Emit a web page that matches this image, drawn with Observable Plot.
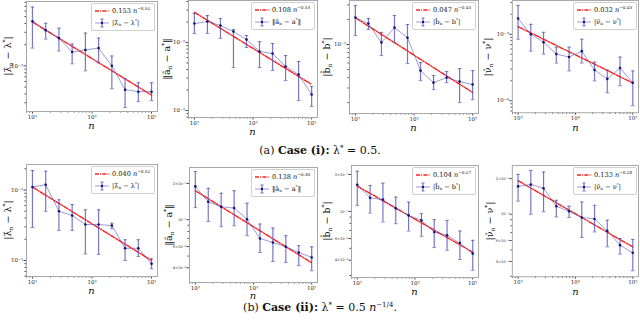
<!DOCTYPE html>
<html><head><meta charset="utf-8">
<script src="https://cdn.jsdelivr.net/npm/d3@7"></script>
<script src="https://cdn.jsdelivr.net/npm/@observablehq/plot@0.6"></script>
<style>
body{margin:0;background:#fff;}
#fig{position:relative;width:640px;height:332px;overflow:hidden;font-family:"DejaVu Serif",serif;color:#111;}
.panel{position:absolute;}
.legend{position:absolute;border:0.8px solid #cfcfcf;border-radius:2px;background:rgba(255,255,255,0.85);font-size:6.6px;font-family:"DejaVu Serif",serif;}
.legend svg{position:absolute;left:0;top:0;}
.legend .t{position:absolute;left:20px;white-space:nowrap;line-height:1;}
.legend sup{font-size:4.2px;vertical-align:3px;}
.legend sub{font-size:4.2px;vertical-align:-1px;}
.ylab{position:absolute;transform:translate(-50%,-50%) rotate(-90deg);white-space:nowrap;font-size:9.5px;line-height:1;font-family:"DejaVu Serif",serif;}
.ylab sub{font-size:6px;vertical-align:-2px;}
.ylab sup{font-size:6px;vertical-align:4px;}
.xlab{position:absolute;transform:translate(-50%,-50%);font-style:italic;font-size:10px;line-height:1;}
.cap{position:absolute;left:0;width:640px;text-align:center;font-size:11px;line-height:1;transform:translateY(-50%);font-family:"DejaVu Serif",serif;}
.cap sup{font-size:7px;vertical-align:4px;}
</style></head>
<body><div id="fig"></div>
<script>
// ---------- data ----------
const nValues = [1000, 1668, 2783, 4642, 7743, 12915, 21544, 35938, 59948, 100000];
const fitN = [1000, 100000];
const xDomain = [794.3, 125893];
const xTicks = [1e3, 1e4, 1e5];
const xTickLabels = ["10³", "10⁴", "10⁵"];

// Case (i)
const caseI_lambda_mean = [4.3e-3, 3.21e-3, 2.48e-3, 1.57e-3, 1.68e-3, 1.79e-3, 1.0e-3, 0.459e-3, 0.43e-3, 0.43e-3];
const caseI_lambda_hi   = [6.84e-3, 4.03e-3, 3.43e-3, 2.04e-3, 2.92e-3, 2.48e-3, 1.38e-3, 0.656e-3, 0.576e-3, 0.576e-3];
const caseI_lambda_lo   = [1.79e-3, 2.40e-3, 1.63e-3, 1.07e-3, 0.85e-3, 1.10e-3, 0.474e-3, 0.256e-3, 0.311e-3, 0.321e-3];
const caseI_lambda_fit  = [4.2e-3, 3.84e-4];

const caseI_a_mean = [1.90e-3, 2.04e-3, 1.78e-3, 1.45e-3, 1.11e-3, 0.737e-3, 0.689e-3, 0.444e-3, 0.338e-3, 0.172e-3];
const caseI_a_hi   = [2.67e-3, 2.49e-3, 2.25e-3, 1.55e-3, 1.27e-3, 1.03e-3, 0.967e-3, 0.644e-3, 0.526e-3, 0.225e-3];
const caseI_a_lo   = [1.36e-3, 1.36e-3, 1.15e-3, 0.429e-3, 0.844e-3, 0.429e-3, 0.388e-3, 0.276e-3, 0.140e-3, 0.115e-3];
const caseI_a_fit  = [2.78e-3, 2.42e-4];

const caseI_b_mean = [2.11e-3, 1.79e-3, 1.06e-3, 1.60e-3, 1.21e-3, 0.486e-3, 0.348e-3, 0.400e-3, 0.358e-3, 0.330e-3];
const caseI_b_hi   = [2.95e-3, 2.06e-3, 1.40e-3, 2.24e-3, 1.74e-3, 0.607e-3, 0.423e-3, 0.473e-3, 0.514e-3, 0.486e-3];
const caseI_b_lo   = [1.28e-3, 1.52e-3, 0.737e-3, 1.06e-3, 0.590e-3, 0.368e-3, 0.287e-3, 0.348e-3, 0.200e-3, 0.217e-3];
const caseI_b_fit  = [2.10e-3, 2.65e-4];

const caseI_nu_mean = [1.73e-3, 1.0e-3, 0.760e-3, 0.503e-3, 0.454e-3, 0.557e-3, 0.290e-3, 0.213e-3, 0.311e-3, 0.186e-3];
const caseI_nu_hi   = [2.71e-3, 1.41e-3, 1.07e-3, 0.640e-3, 0.640e-3, 0.842e-3, 0.382e-3, 0.290e-3, 0.454e-3, 0.281e-3];
const caseI_nu_lo   = [0.842e-3, 0.557e-3, 0.503e-3, 0.369e-3, 0.281e-3, 0.369e-3, 0.199e-3, 0.132e-3, 0.168e-3, 0.0842e-3];
const caseI_nu_fit  = [1.3e-3, 1.85e-4];

// Case (ii)
const caseII_lambda_mean = [1.10e-3, 1.19e-3, 0.500e-3, 0.435e-3, 0.324e-3, 0.324e-3, 0.313e-3, 0.149e-3, 0.149e-3, 0.0898e-3];
const caseII_lambda_hi   = [1.89e-3, 1.85e-3, 0.726e-3, 0.623e-3, 0.524e-3, 0.524e-3, 0.338e-3, 0.197e-3, 0.197e-3, 0.1057e-3];
const caseII_lambda_lo   = [0.294e-3, 0.500e-3, 0.267e-3, 0.267e-3, 0.124e-3, 0.122e-3, 0.282e-3, 0.100e-3, 0.114e-3, 0.0762e-3];
const caseII_lambda_fit  = [1.10e-3, 1.0e-4];

const caseII_a_mean = [1.89e-3, 1.41e-3, 1.28e-3, 1.25e-3, 1.01e-3, 0.700e-3, 0.648e-3, 0.597e-3, 0.536e-3, 0.487e-3];
const caseII_a_hi   = [2.51e-3, 1.82e-3, 1.66e-3, 1.74e-3, 1.37e-3, 0.921e-3, 0.853e-3, 0.737e-3, 0.609e-3, 0.597e-3];
const caseII_a_lo   = [1.26e-3, 0.968e-3, 0.875e-3, 0.892e-3, 0.737e-3, 0.536e-3, 0.451e-3, 0.443e-3, 0.416e-3, 0.378e-3];
const caseII_a_fit  = [1.74e-3, 4.4e-4];

const caseII_b_mean = [1.65e-3, 1.29e-3, 1.25e-3, 1.06e-3, 0.928e-3, 0.845e-3, 0.679e-3, 0.638e-3, 0.552e-3, 0.453e-3];
const caseII_b_hi   = [2.13e-3, 1.63e-3, 1.70e-3, 1.31e-3, 1.19e-3, 0.958e-3, 0.857e-3, 0.845e-3, 0.692e-3, 0.581e-3];
const caseII_b_lo   = [1.12e-3, 0.969e-3, 0.819e-3, 0.794e-3, 0.692e-3, 0.626e-3, 0.507e-3, 0.482e-3, 0.405e-3, 0.331e-3];
const caseII_b_fit  = [1.61e-3, 4.65e-4];

const caseII_nu_mean = [1.72e-3, 1.78e-3, 1.66e-3, 1.17e-3, 1.06e-3, 0.938e-3, 0.913e-3, 0.724e-3, 0.549e-3, 0.473e-3];
const caseII_nu_hi   = [2.17e-3, 2.34e-3, 2.27e-3, 1.31e-3, 1.17e-3, 1.27e-3, 1.19e-3, 0.891e-3, 0.625e-3, 0.613e-3];
const caseII_nu_lo   = [1.29e-3, 1.0e-3, 1.05e-3, 0.949e-3, 0.938e-3, 0.637e-3, 0.710e-3, 0.531e-3, 0.461e-3, 0.334e-3];
const caseII_nu_fit  = [1.92e-3, 5.3e-4];

// y ticks and labels
const yTicksBase3 = [1e-3];
const yTickLabelsBase3 = ["10⁻³"];
const yTicksBase34 = [1e-4, 1e-3];
const yTickLabelsBase34 = ["10⁻⁴", "10⁻³"];
const yTicksSub = [4e-4, 6e-4, 1e-3, 2e-3];
const yTickLabelsSub = ["4×10⁻⁴", "6×10⁻⁴", "10⁻³", "2×10⁻³"];

// legend texts
const fitCoefs = ["0.153", "0.108", "0.047", "0.032", "0.040", "0.138", "0.104", "0.133"];
const fitExps  = ["−0.52", "−0.53", "−0.45", "−0.45", "−0.52", "−0.30", "−0.27", "−0.28"];
const errLabels = {
  lambda: "|λ̂<sub>n</sub> − λ<sup>*</sup>|",
  a: "‖â<sub>n</sub> − a<sup>*</sup>‖",
  b: "|b̂<sub>n</sub> − b<sup>*</sup>|",
  nu: "|ν̂<sub>n</sub> − ν<sup>*</sup>|"
};
const captionA = "(a) <b>Case (i):</b> λ<sup>*</sup> = 0.5.";
const captionB = "(b) <b>Case (ii):</b> λ<sup>*</sup> = 0.5 <i>n</i><sup>−1/4</sup>.";

// ---------- layout (frame: left, right, top, bottom) ----------
const panels = [
  {mean:caseI_lambda_mean, hi:caseI_lambda_hi, lo:caseI_lambda_lo, fit:caseI_lambda_fit, yDomain:[2.25e-4, 8.2e-3], yt:yTicksBase3, ytl:yTickLabelsBase3, err:"lambda", frame:[26,157,1,111], yl:-18, xl:15},
  {mean:caseI_a_mean, hi:caseI_a_hi, lo:caseI_a_lo, fit:caseI_a_fit, yDomain:[7.9e-5, 4.15e-3], yt:yTicksBase34, ytl:yTickLabelsBase34, err:"a", frame:[188,317,0,117], yl:-21, xl:14.5},
  {mean:caseI_b_mean, hi:caseI_b_hi, lo:caseI_b_lo, fit:caseI_b_fit, yDomain:[1.48e-4, 3.39e-3], yt:yTicksBase3, ytl:yTickLabelsBase3, err:"b", frame:[349,478,0,113], yl:-22, xl:14.5},
  {mean:caseI_nu_mean, hi:caseI_nu_hi, lo:caseI_nu_lo, fit:caseI_nu_fit, yDomain:[6.6e-5, 3.22e-3], yt:yTicksBase34, ytl:yTickLabelsBase34, err:"nu", frame:[512,639,0,113], yl:-24, xl:14.5},
  {mean:caseII_lambda_mean, hi:caseII_lambda_hi, lo:caseII_lambda_lo, fit:caseII_lambda_fit, yDomain:[5.93e-5, 2.30e-3], yt:yTicksBase34, ytl:yTickLabelsBase34, err:"lambda", frame:[26,157,164,276], yl:-18, xl:14.5},
  {mean:caseII_a_mean, hi:caseII_a_hi, lo:caseII_a_lo, fit:caseII_a_fit, yDomain:[3.02e-4, 2.71e-3], yt:yTicksSub, ytl:yTickLabelsSub, err:"a", frame:[189,317,167,282], yl:-20, xl:14},
  {mean:caseII_b_mean, hi:caseII_b_hi, lo:caseII_b_lo, fit:caseII_b_fit, yDomain:[2.89e-4, 2.37e-3], yt:yTicksSub, ytl:yTickLabelsSub, err:"b", frame:[351,478,165,277], yl:-24, xl:14.5},
  {mean:caseII_nu_mean, hi:caseII_nu_hi, lo:caseII_nu_lo, fit:caseII_nu_fit, yDomain:[2.97e-4, 2.58e-3], yt:yTicksSub, ytl:yTickLabelsSub, err:"nu", frame:[512,639,165,277], yl:-22, xl:14.5}
];

const fig = document.getElementById("fig");
const BLUE = "#4a4ab4", NAVY = "#12127a", RED = "#ff1f1f";

function logMinor(domain, exclude) {
  const out = [];
  const e0 = Math.floor(Math.log10(domain[0])), e1 = Math.ceil(Math.log10(domain[1]));
  for (let e = e0; e <= e1; e++) for (let k = 1; k < 10; k++) {
    const v = k * Math.pow(10, e);
    if (v >= domain[0] && v <= domain[1] && !exclude.some(t => Math.abs(t / v - 1) < 1e-6)) out.push(v);
  }
  return out;
}
const cap = {draw(ctx) { ctx.moveTo(-1.8, 0); ctx.lineTo(1.8, 0); }};

panels.forEach((cfg, idx) => {
  const [fl, fr, ft, fb] = cfg.frame;
  const ml = 26, mr = 2, mt = 2, mb = 10;
  const data = nValues.map((n, i) => ({n, mean: cfg.mean[i], lo: cfg.lo[i], hi: cfg.hi[i]}));
  const fit = fitN.map((n, i) => ({n, v: cfg.fit[i]}));
  const xLab = new Map(xTicks.map((t, i) => [t, xTickLabels[i]]));
  const yLab = new Map(cfg.yt.map((t, i) => [t, cfg.ytl[i]]));
  const small = cfg.yt.length > 2;
  const chart = Plot.plot({
    width: fr - fl + ml + mr, height: fb - ft + mt + mb,
    marginLeft: ml, marginRight: mr, marginTop: mt, marginBottom: mb,
    x: {type: "log", domain: xDomain},
    y: {type: "log", domain: cfg.yDomain},
    style: {fontFamily: "DejaVu Serif, serif", fontSize: "5px", color: "#222", background: "transparent", overflow: "visible"},
    marks: [
      Plot.axisX({ticks: xTicks, tickFormat: d => xLab.get(d), tickSize: 2.5, tickPadding: 1, label: null, fontSize: 5.5, stroke: "#444"}),
      Plot.axisX({ticks: logMinor(xDomain, xTicks), tickFormat: () => "", tickSize: 1.5, label: null, stroke: "#444"}),
      Plot.axisY({ticks: cfg.yt, tickFormat: d => yLab.get(d), tickSize: 2.5, tickPadding: 1, label: null, fontSize: small ? 3.6 : 5.5, stroke: "#444"}),
      Plot.axisY({ticks: logMinor(cfg.yDomain, cfg.yt), tickFormat: () => "", tickSize: 1.5, label: null, stroke: "#444"}),
      Plot.line(fit, {x: "n", y: "v", stroke: RED, strokeWidth: 1.4, strokeDasharray: "5,1.5,1.2,1.5"}),
      Plot.ruleX(data, {x: "n", y1: "lo", y2: "hi", stroke: BLUE, strokeOpacity: 0.75, strokeWidth: 1.2}),
      Plot.dot(data, {x: "n", y: "lo", symbol: cap, stroke: BLUE, strokeWidth: 0.8, strokeOpacity: 0.85}),
      Plot.dot(data, {x: "n", y: "hi", symbol: cap, stroke: BLUE, strokeWidth: 0.8, strokeOpacity: 0.85}),
      Plot.line(data, {x: "n", y: "mean", stroke: BLUE, strokeOpacity: 0.55, strokeWidth: 1}),
      Plot.dot(data, {x: "n", y: "mean", r: 1.3, fill: NAVY}),
      Plot.frame({stroke: "#a8a8a8", strokeWidth: 1})
    ]
  });
  const wrap = document.createElement("div");
  wrap.className = "panel";
  wrap.style.left = (fl - ml) + "px";
  wrap.style.top = (ft - mt) + "px";
  wrap.appendChild(chart);
  fig.appendChild(wrap);

  // legend
  const lg = document.createElement("div");
  lg.className = "legend";
  const lw = 62, lh = 26;
  lg.style.left = (fr - 4 - lw) + "px";
  lg.style.top = (ft + 2) + "px";
  lg.style.width = lw + "px";
  lg.style.height = lh + "px";
  lg.innerHTML = `<svg width="${lw}" height="${lh}">
    <line x1="3" x2="17" y1="7" y2="7" stroke="${RED}" stroke-width="1.3" stroke-dasharray="4,1.2,1,1.2"/>
    <line x1="3" x2="17" y1="19" y2="19" stroke="${BLUE}" stroke-opacity="0.55"/>
    <line x1="10" x2="10" y1="15" y2="23" stroke="${BLUE}" stroke-opacity="0.8" stroke-width="1.1"/>
    <line x1="8.4" x2="11.6" y1="15" y2="15" stroke="${BLUE}" stroke-width="0.7"/>
    <line x1="8.4" x2="11.6" y1="23" y2="23" stroke="${BLUE}" stroke-width="0.7"/>
    <circle cx="10" cy="19" r="1.2" fill="${NAVY}"/></svg>
    <div class="t" style="top:3px">${fitCoefs[idx]} <i>n</i><sup>${fitExps[idx]}</sup></div>
    <div class="t" style="top:15px">${errLabels[cfg.err]}</div>`;
  fig.appendChild(lg);

  // y label
  const yl = document.createElement("div");
  yl.className = "ylab";
  yl.style.left = (fl + cfg.yl) + "px";
  yl.style.top = ((ft + fb) / 2) + "px";
  yl.innerHTML = errLabels[cfg.err];
  fig.appendChild(yl);

  // x label
  const xl = document.createElement("div");
  xl.className = "xlab";
  xl.style.left = ((fl + fr) / 2) + "px";
  xl.style.top = (fb + cfg.xl) + "px";
  xl.textContent = "n";
  fig.appendChild(xl);
});

[[captionA, 150], [captionB, 307]].forEach(([html, y]) => {
  const c = document.createElement("div");
  c.className = "cap";
  c.style.top = y + "px";
  c.innerHTML = html;
  fig.appendChild(c);
});
</script></body></html>
